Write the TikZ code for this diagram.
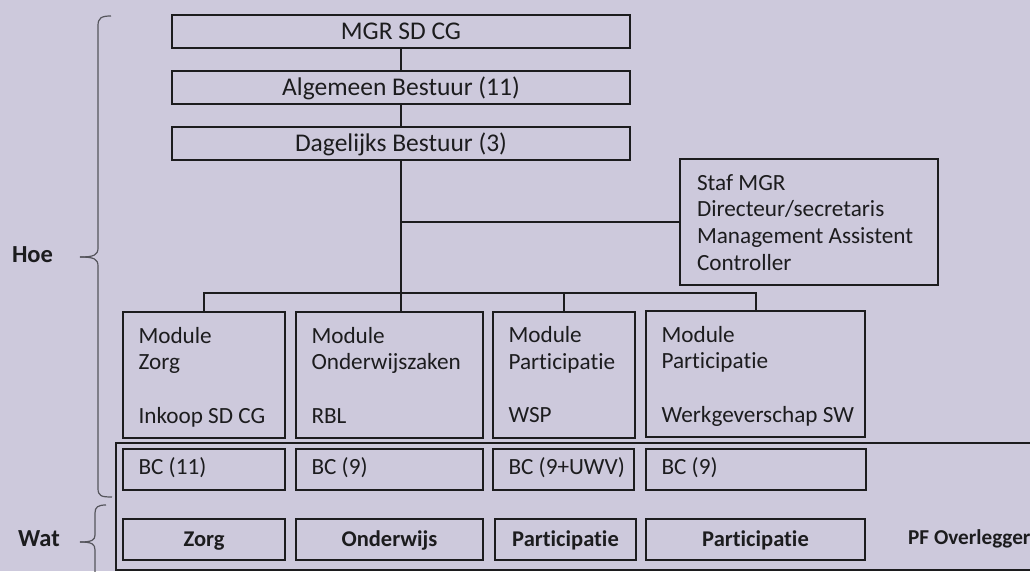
\documentclass[tikz,border=0pt]{standalone}
\usepackage{fontspec}
\setmainfont{Carlito}[Ligatures=NoCommon]
\definecolor{bg}{RGB}{205,201,220}
\definecolor{ink}{RGB}{28,28,30}
\definecolor{bracec}{RGB}{85,85,92}
\newcommand\fl{\rule{0pt}{24.6pt}}
\newcommand\nsp{\spaceskip=0pt\xspaceskip=0pt\relax}
\newcommand\modtext[3]{\nsp\fl#1\\\strut#2\\\strut\\\strut\mbox{#3}}
\begin{document}
\begin{tikzpicture}[x=1pt,y=-1pt,
  tfont/.style={font=\fontsize{25.5}{29}\selectfont},
  rfont/.style={font=\fontsize{23.2}{26.8}\selectfont},
  bfont/.style={font=\fontsize{22.5}{26}\selectfont\bfseries},
  box/.style={draw=ink, line width=2pt, text=ink, inner sep=0pt, rfont},
  tbox/.style={box, tfont, minimum width=458pt, minimum height=33pt, text height=16.4pt, text depth=0pt},
  lbox/.style={box, align=flush left, inner xsep=15.5pt, inner ysep=0pt, text width=#1},
  modbox/.style={lbox=#1, minimum height=126pt},
  bcbox/.style={lbox=#1, minimum height=41pt},
  watbox/.style={box, minimum height=41pt, bfont, text height=14.5pt, text depth=0pt},
  conn/.style={draw=ink, line width=2pt},
  lbl/.style={text=ink, inner sep=0pt, font=\fontsize{24.5}{28}\selectfont\bfseries},
  brace/.style={draw=bracec, line width=1.2pt}]
\useasboundingbox[fill=bg] (0,0) rectangle (1030,571);

% top chain
\node[tbox] (mgr) at (401,31.5) {MGR SD CG};
\node[tbox] (alg) at (401,87.5) {Algemeen Bestuur (11)};
\node[tbox] (dag) at (401,143.5) {Dagelijks Bestuur (3)};

% staff
\node[lbox=224pt, inner xsep=17pt, minimum height=126pt] (staf) at (809,222)
  {\nsp\fl Staf MGR\\\strut Directeur/secretaris\\\strut Management Assistent\\\strut Controller};

% modules
\node[modbox=131pt] (mz) at (204,375) {\modtext{Module}{Zorg}{Inkoop SD CG}};
\node[modbox=156pt] (mo) at (389.5,375) {\modtext{Module}{Onderwijszaken}{RBL}};
\node[modbox=111pt] (mw) at (564,374.5) {\modtext{Module}{Participatie}{WSP}};
\node[modbox=188pt] (mwg) at (755.5,374) {\modtext{Module}{Participatie}{Werkgeverschap SW}};

% BC row
\node[bcbox=131pt] (bz) at (204,469.5) {\nsp\strut\mbox{BC (11)}};
\node[bcbox=156pt] (bo) at (389.5,469.5) {\nsp\strut\mbox{BC (9)}};
\node[bcbox=110pt] (bw) at (563.5,469.5) {\nsp\strut\mbox{BC (9+UWV)}};
\node[bcbox=189pt] (bwg) at (756,469.5) {\nsp\strut\mbox{BC (9)}};

% Wat row
\node[watbox, minimum width=162pt] (wz) at (204,539.5) {Zorg};
\node[watbox, minimum width=187pt] (wo) at (389.5,539.5) {Onderwijs};
\node[watbox, minimum width=141pt] (wp1) at (565.5,539.5) {Participatie};
\node[watbox, minimum width=219pt] (wp2) at (755.5,539.5) {Participatie};
\node[text=ink, inner sep=0pt, font=\fontsize{21.2}{25}\selectfont\bfseries, anchor=base west] (pf) at (908,544.5) {PF Overlegger};

% connectors
\coordinate (bus) at (0,293);
\draw[conn] (mgr) -- (alg);
\draw[conn] (alg) -- (dag);
\draw[conn] (dag.south) -- (dag.south |- mo.north);
\draw[conn] (mz.north) -- (mz.north |- bus) -- (mwg.north |- bus) -- (mwg.north);
\draw[conn] (mw.north) -- (mw.north |- bus);
\draw[conn] (staf.west) -- (staf.west -| dag.south);

% frame around BC and Wat rows
\draw[conn] (1040,443) -- (116,443) -- (116,569.5) -- (1040,569.5);

% labels and braces
\node[lbl, anchor=base] (hoe) at (32.5,262) {Hoe};
\node[lbl, anchor=base] (wat) at (39,546) {Wat};
\draw[brace] (111,16) .. controls (101,16) and (98,18) .. (98,26) -- (98,248)
  .. controls (98,255) and (94,257) .. (80,257);
\draw[brace] (80,257) .. controls (94,257) and (98,259) .. (98,266) -- (98,488)
  .. controls (98,496) and (101,497) .. (112,497);
\draw[brace] (106,505) .. controls (98,505) and (95,507) .. (95,513) -- (95,535)
  .. controls (95,540) and (92,542) .. (80,542);
\draw[brace] (80,542) .. controls (92,542) and (95,544) .. (95,550) -- (95,600);
\end{tikzpicture}
\end{document}
